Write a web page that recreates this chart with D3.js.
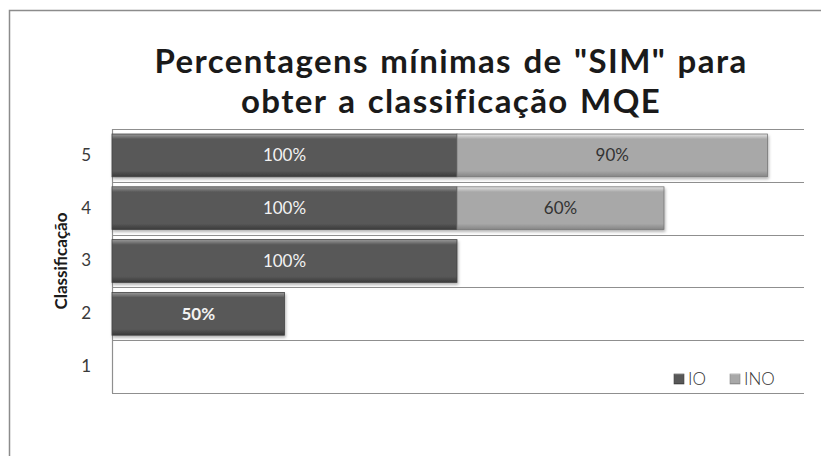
<!DOCTYPE html>
<html>
<head>
<meta charset="utf-8">
<script src="https://cdn.jsdelivr.net/npm/d3@7"></script>
<style>
  body { margin: 0; background: #fff; }
  svg { display: block; }
</style>
</head>
<body>
<div id="chart"></div>
<script>
// valores
const categories = ["1", "2", "3", "4", "5"];
const ioValues = [0, 50, 100, 100, 100];
const inoValues = [0, 0, 0, 60, 90];
const seriesNames = ["IO", "INO"];
const titleLines = ['Percentagens mínimas de "SIM" para', "obter a classificação MQE"];

const width = 821, height = 456;
const margin = { top: 129, left: 112, right: 17, bottom: 63 };
const font = "Lato, 'Open Sans', sans-serif";

const svg = d3.select("#chart").append("svg")
  .attr("width", width).attr("height", height);

const defs = svg.append("defs");
function barGradient(id, top, mid, bottom) {
  const g = defs.append("linearGradient").attr("id", id)
    .attr("x1", 0).attr("y1", 0).attr("x2", 0).attr("y2", 1);
  g.append("stop").attr("offset", "0%").attr("stop-color", top);
  g.append("stop").attr("offset", "12%").attr("stop-color", mid);
  g.append("stop").attr("offset", "86%").attr("stop-color", mid);
  g.append("stop").attr("offset", "100%").attr("stop-color", bottom);
}
barGradient("gIO", "#9a9a9a", "#585858", "#3a3a3a");
barGradient("gINO", "#e4e4e4", "#a8a8a8", "#858585");
const shadow = defs.append("filter").attr("id", "shadow")
  .attr("x", "-5%").attr("y", "-10%").attr("width", "110%").attr("height", "140%");
shadow.append("feDropShadow").attr("dx", 1).attr("dy", 2).attr("stdDeviation", 1.5)
  .attr("flood-color", "#000").attr("flood-opacity", 0.3);

// moldura exterior
svg.append("rect")
  .attr("x", 9.5).attr("y", 10.5).attr("width", 900).attr("height", 500)
  .attr("fill", "none").attr("stroke", "#8c8c8c").attr("stroke-width", 1.5);

// titulo
const title = svg.append("g");
titleLines.forEach((t, i) => {
  title.append("text")
    .attr("x", 451).attr("y", 73 + i * 40)
    .attr("text-anchor", "middle")
    .attr("font-family", font)
    .attr("font-weight", 700)
    .attr("font-size", 33)
    .attr("letter-spacing", 1.4)
    .attr("word-spacing", 2)
    .attr("fill", "#1a1a1a")
    .text(t);
});

const x = d3.scaleLinear().domain([0, 200])
  .range([margin.left, width - margin.right - 2]);
const y = d3.scaleBand().domain(categories.slice().reverse())
  .range([margin.top, height - margin.bottom]).paddingInner(0.19).paddingOuter(0.095);

const rows = categories.map((c, i) => ({ cat: c, io: ioValues[i], ino: inoValues[i] }));

// grelha
const bounds = categories.slice().reverse().map(c => y(c) - y.step() * y.paddingInner() / 2);
bounds.push(height - margin.bottom);
svg.append("g").selectAll("line").data(bounds).join("line")
  .attr("x1", margin.left).attr("x2", width - margin.right)
  .attr("y1", d => Math.round(d) + 0.5).attr("y2", d => Math.round(d) + 0.5)
  .attr("stroke", "#8f8f8f").attr("stroke-width", 1.2);
svg.append("line")
  .attr("x1", margin.left + 0.5).attr("x2", margin.left + 0.5)
  .attr("y1", margin.top).attr("y2", height - margin.bottom)
  .attr("stroke", "#8f8f8f").attr("stroke-width", 1.2);

// eixo y
const yAxis = svg.append("g")
  .attr("transform", `translate(${margin.left},0)`)
  .call(d3.axisLeft(y).tickSize(0).tickPadding(21));
yAxis.select(".domain").remove();
yAxis.selectAll("text")
  .style("font-family", font)
  .style("font-size", "17px").attr("fill", "#3a3a3a");

svg.append("text")
  .attr("transform", `translate(67,${(margin.top + height - margin.bottom) / 2}) rotate(-90)`)
  .attr("text-anchor", "middle")
  .attr("font-family", font)
  .attr("font-weight", 700).attr("font-size", 17).attr("fill", "#1a1a1a")
  .text("Classificação");

// barras
const barsIO = rows.filter(d => d.io > 0);
const barsINO = rows.filter(d => d.ino > 0);
const bars = svg.append("g").attr("filter", "url(#shadow)");
bars.selectAll(".io").data(barsIO).join("rect").attr("class", "io")
  .attr("x", x(0)).attr("y", d => y(d.cat))
  .attr("width", d => x(d.io) - x(0)).attr("height", y.bandwidth())
  .attr("fill", "url(#gIO)").attr("stroke", "#444").attr("stroke-width", 0.8);
bars.selectAll(".ino").data(barsINO).join("rect").attr("class", "ino")
  .attr("x", d => x(d.io)).attr("y", d => y(d.cat))
  .attr("width", d => x(d.io + d.ino) - x(d.io)).attr("height", y.bandwidth())
  .attr("fill", "url(#gINO)").attr("stroke", "#777").attr("stroke-width", 0.8);

// rotulos
const labels = svg.append("g")
  .attr("font-family", font).attr("font-size", 17)
  .attr("text-anchor", "middle");
labels.selectAll(".lio").data(barsIO).join("text")
  .attr("x", d => (x(0) + x(d.io)) / 2).attr("y", d => y(d.cat) + y.bandwidth() / 2 + 6)
  .attr("fill", "#f2f2f2").attr("font-weight", d => d.io < 100 ? 700 : 400)
  .text(d => d.io + "%");
labels.selectAll(".lino").data(barsINO).join("text")
  .attr("x", d => (x(d.io) + x(d.io + d.ino)) / 2).attr("y", d => y(d.cat) + y.bandwidth() / 2 + 6)
  .attr("fill", "#333")
  .text(d => d.ino + "%");

// legenda
const legend = svg.append("g").attr("transform", "translate(674,373)");
const legendX = [0, 56];
const legendFill = ["url(#gIO)", "url(#gINO)"];
seriesNames.forEach((s, i) => {
  legend.append("rect").attr("x", legendX[i]).attr("y", 1).attr("width", 10).attr("height", 10)
    .attr("fill", legendFill[i]).attr("stroke", i ? "#888" : "#444").attr("stroke-width", 0.6);
  legend.append("text").attr("x", legendX[i] + 14).attr("y", 12)
    .attr("font-family", font).attr("font-size", 17).attr("font-weight", 300).attr("fill", "#333")
    .text(s);
});
</script>
</body>
</html>
